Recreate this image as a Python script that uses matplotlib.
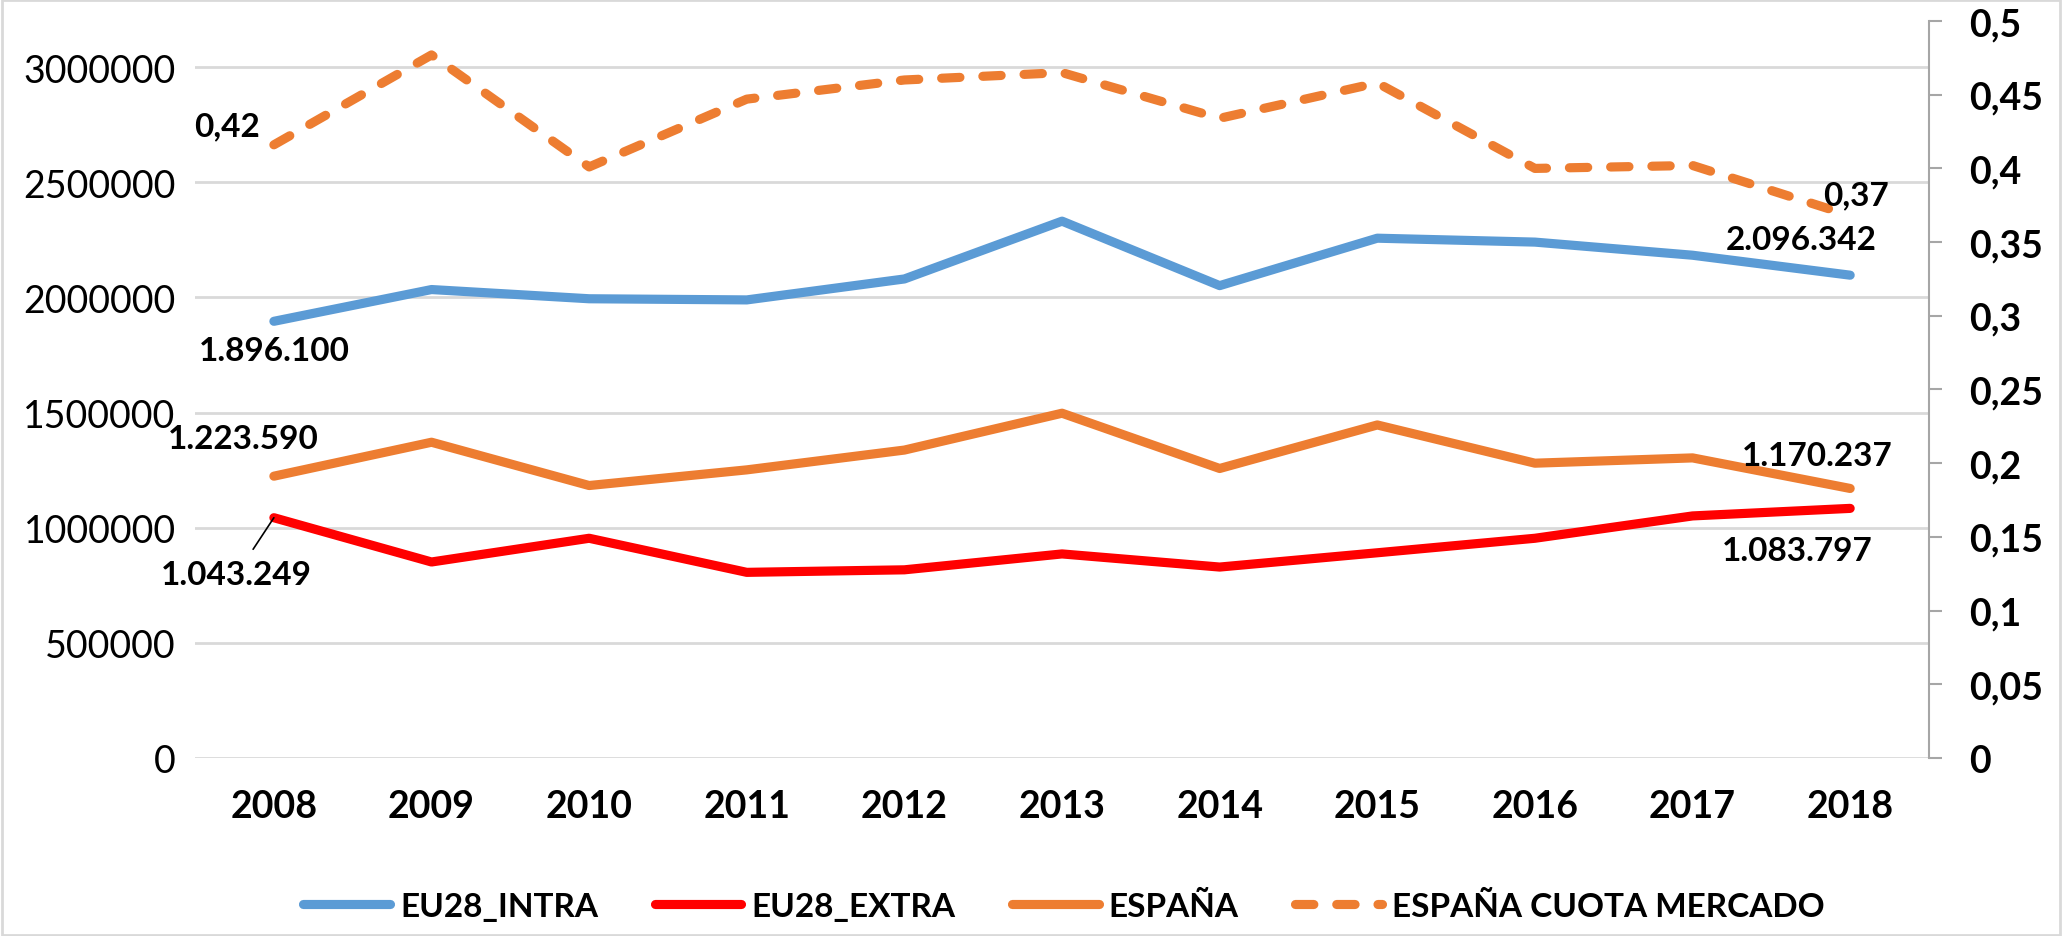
import matplotlib
matplotlib.use("Agg")
import matplotlib.pyplot as plt
import numpy as np

plt.rcParams['font.family'] = ['Lato', 'DejaVu Sans']

# datos
years = ["2008", "2009", "2010", "2011", "2012", "2013", "2014", "2015", "2016", "2017", "2018"]
eu28_intra = [1896100, 2034000, 1994000, 1989000, 2080000, 2331000, 2051000, 2257000, 2240000, 2183000, 2096342]
eu28_extra = [1043249, 851000, 954000, 806000, 817000, 886000, 829000, 891000, 954000, 1051000, 1083797]
espana = [1223590, 1371000, 1183000, 1251000, 1337000, 1497000, 1257000, 1446000, 1280000, 1303000, 1170237]
cuota = [0.416, 0.477, 0.401, 0.447, 0.460, 0.465, 0.434, 0.458, 0.400, 0.402, 0.368]

left_ticks = [0, 500000, 1000000, 1500000, 2000000, 2500000, 3000000]
right_ticks = [0, 0.05, 0.1, 0.15, 0.2, 0.25, 0.3, 0.35, 0.4, 0.45, 0.5]

BLUE = "#5B9BD5"
RED = "#FF0000"
ORANGE = "#ED7D31"
FS = 27
LW = 6.6

fig = plt.figure(figsize=(20.62, 9.37), dpi=100)
ax = fig.add_axes([0.0946, 0.19, 0.8409, 0.7865])
ax2 = ax.twinx()

x = np.arange(len(years))
l1, = ax.plot(x, eu28_intra, color=BLUE, lw=LW, solid_capstyle='round', solid_joinstyle='round', zorder=3)
l2, = ax.plot(x, eu28_extra, color=RED, lw=LW, solid_capstyle='round', solid_joinstyle='round', zorder=3)
l3, = ax.plot(x, espana, color=ORANGE, lw=LW, solid_capstyle='round', solid_joinstyle='round', zorder=3)
l4, = ax2.plot(x, cuota, color=ORANGE, lw=LW, dashes=(2.0, 2.5), dash_capstyle='round', zorder=3)

ax.set_xlim(-0.5, len(years) - 0.5)
ax.set_ylim(0, 3200000)
ax2.set_ylim(0, 0.5)

ax.set_yticks(left_ticks)
ax.set_yticklabels([str(v) for v in left_ticks], fontsize=FS)
ax2.set_yticks(right_ticks)
ax2.set_yticklabels([("%g" % v).replace(".", ",") for v in right_ticks], fontsize=FS, fontweight='bold')
ax.set_xticks(x)
ax.set_xticklabels(years, fontsize=FS, fontweight='bold')

ax.grid(axis='y', color="#D9D9D9", lw=2)
ax.set_axisbelow(True)
ax.tick_params(axis='x', length=0, pad=22)
ax.tick_params(axis='y', length=0, pad=14)
ax2.tick_params(axis='y', length=9, width=1.5, color="#A6A6A6", pad=20)

for a in (ax, ax2):
    for s in ['top', 'left', 'bottom']:
        a.spines[s].set_visible(False)
ax.spines['right'].set_visible(False)
ax2.spines['right'].set_color("#A6A6A6")
ax2.spines['right'].set_linewidth(1.5)

# etiquetas de datos
def lab(a, i, val, txt, dx, dy, **kw):
    a.annotate(txt, (i, val), xytext=(dx, dy), textcoords='offset points',
               ha='center', va='center', fontsize=FS - 3, fontweight='bold', **kw)

lab(ax, 0, eu28_intra[0], "1.896.100", 0, -21)
lab(ax, 0, espana[0], "1.223.590", -22, 27)
lab(ax, 0, eu28_extra[0], "1.043.249", -27, -41,
    arrowprops=dict(arrowstyle='-', color='black', lw=1.2, shrinkA=7, shrinkB=0))
lab(ax2, 0, cuota[0], "0,42", -34, 14)
lab(ax, 10, eu28_intra[10], "2.096.342", -35, 26)
lab(ax, 10, espana[10], "1.170.237", -24, 24)
lab(ax, 10, eu28_extra[10], "1.083.797", -38, -30)
lab(ax2, 10, cuota[10], "0,37", 4, 15)

fig.legend([l1, l2, l3, l4], ["EU28_INTRA", "EU28_EXTRA", "ESPAÑA", "ESPAÑA CUOTA MERCADO"],
           loc='center', bbox_to_anchor=(0.516, 0.032), ncol=4, frameon=False,
           prop={'size': 24, 'weight': 'bold'}, handlelength=2.6, handletextpad=0.3,
           columnspacing=1.7)

fig.patches.append(plt.Rectangle((0.001, 0.001), 0.998, 0.998, transform=fig.transFigure,
                                 fill=False, edgecolor="#D9D9D9", lw=2))

fig.savefig("out.png", dpi=100)
